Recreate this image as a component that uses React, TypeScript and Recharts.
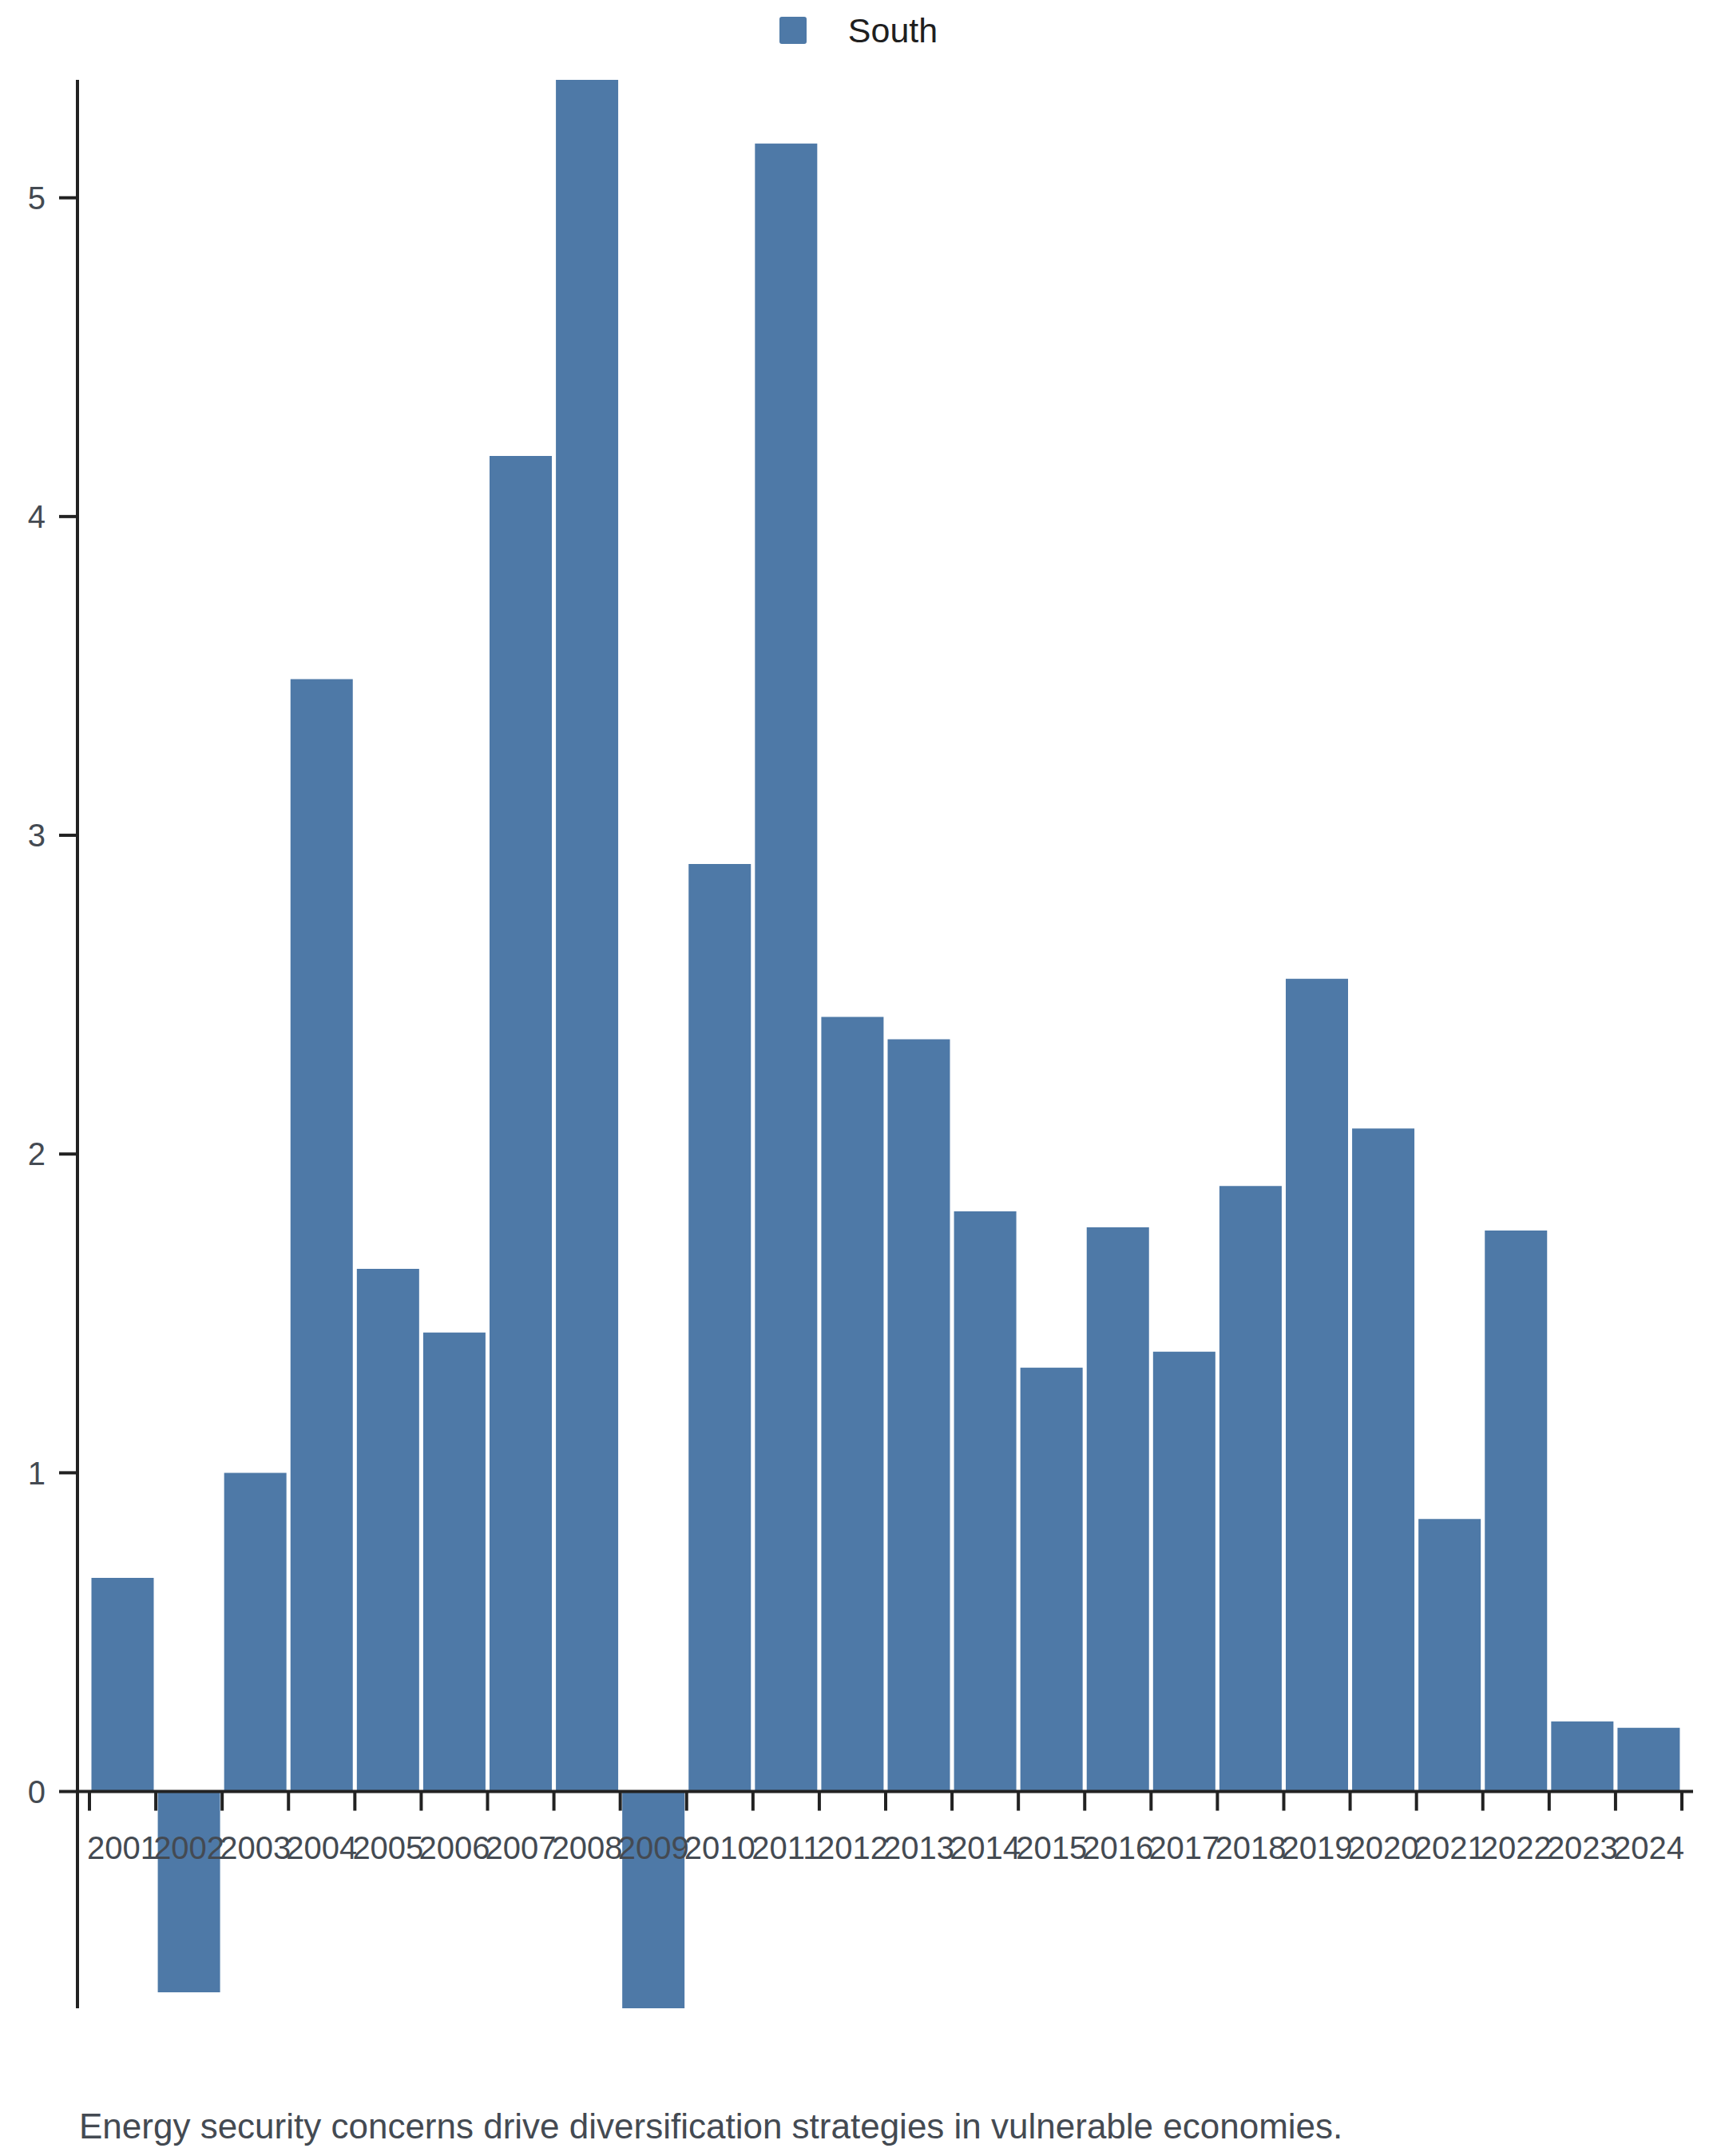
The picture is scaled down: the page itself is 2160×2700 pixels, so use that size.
import { BarChart, Bar, XAxis, YAxis, Legend, ReferenceLine } from 'recharts'

const years = ['2001', '2002', '2003', '2004', '2005', '2006', '2007', '2008', '2009', '2010', '2011', '2012',
  '2013', '2014', '2015', '2016', '2017', '2018', '2019', '2020', '2021', '2022', '2023', '2024']

const south = [0.67, -0.63, 1.0, 3.49, 1.64, 1.44, 4.19, 5.37, -0.68, 2.91, 5.17, 2.43,
  2.36, 1.82, 1.33, 1.77, 1.38, 1.9, 2.55, 2.08, 0.855, 1.76, 0.22, 0.2]

const yTicks = [0, 1, 2, 3, 4, 5]

const caption = 'Energy security concerns drive diversification strategies in vulnerable economies.'

const data = years.map((year, i) => ({ year, South: south[i] }))

const FONT = '"Liberation Sans", Arial, Helvetica, sans-serif'
const BLUE = '#4e79a7'
const AXIS = '#222222'
const TEXT = '#444a52'

// chart geometry
const W = 2160
const H = 2600
const M = { top: 0, right: 40, bottom: 80, left: 0 }
const LEGEND_H = 100
const Y_AXIS_W = 97
const X_AXIS_H = 5
const X_PAD = { left: 15, right: 14 }
const PLOT_H = H - M.top - M.bottom - LEGEND_H - X_AXIS_H
const PLOT_W = W - M.left - M.right - Y_AXIS_W
const BAND = (PLOT_W - X_PAD.left - X_PAD.right) / years.length

const yMin = Math.min(...south)
const yMax = Math.max(...south)
// distance between the bottom of the plot and the zero line
const ZERO_SHIFT = (PLOT_H * (0 - yMin)) / (yMax - yMin)

function XTick({ x, y, payload, index }: any) {
  const zeroY = y - ZERO_SHIFT
  const left = x - BAND / 2
  return (
    <g>
      <line x1={left} x2={left} y1={zeroY} y2={zeroY + 24} stroke={AXIS} strokeWidth={4} />
      {index === years.length - 1 && (
        <line x1={x + BAND / 2} x2={x + BAND / 2} y1={zeroY} y2={zeroY + 24} stroke={AXIS} strokeWidth={4} />
      )}
      <text x={x} y={zeroY + 84} textAnchor="middle" fontSize={40} fontFamily={FONT} fill={TEXT}>
        {payload.value}
      </text>
    </g>
  )
}

function LegendContent() {
  return (
    <div style={{ width: W, height: LEGEND_H, display: 'flex', justifyContent: 'center', paddingTop: 16, boxSizing: 'border-box', fontFamily: FONT }}>
      <div style={{ display: 'flex', alignItems: 'center', height: 44, marginLeft: -10 }}>
        <div style={{ width: 34, height: 34, background: BLUE, borderRadius: 3 }} />
        <span style={{ marginLeft: 52, fontSize: 43, color: '#1f1f1f' }}>South</span>
      </div>
    </div>
  )
}

export default function App() {
  return (
    <div style={{ position: 'absolute', left: 0, top: 0, width: W, height: 2700, background: '#fff' }}>
      <BarChart width={W} height={H} data={data} margin={M} barCategoryGap={2.5}>
        <Legend verticalAlign="top" align="center" content={<LegendContent />} />
        <XAxis
          dataKey="year"
          interval={0}
          height={X_AXIS_H}
          padding={X_PAD}
          axisLine={false}
          tickLine={false}
          tickSize={0}
          tickMargin={0}
          tick={<XTick />}
        />
        <YAxis
          width={Y_AXIS_W}
          domain={['dataMin', 'dataMax']}
          ticks={yTicks}
          interval={0}
          axisLine={{ stroke: AXIS, strokeWidth: 4 }}
          tickLine={{ stroke: AXIS, strokeWidth: 4 }}
          tickSize={23}
          tickMargin={17}
          tick={{ fontSize: 40, fontFamily: FONT, fill: TEXT }}
        />
        <Bar dataKey="South" fill={BLUE} isAnimationActive={false} />
        <ReferenceLine y={0} stroke={AXIS} strokeWidth={4} />
      </BarChart>
      <div style={{ position: 'absolute', left: 99, top: 2638, fontSize: 44, fontFamily: FONT, color: TEXT, whiteSpace: 'nowrap' }}>
        {caption}
      </div>
    </div>
  )
}
